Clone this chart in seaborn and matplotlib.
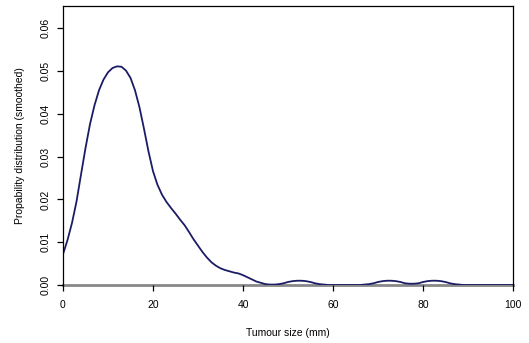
import matplotlib
matplotlib.use("Agg")
import matplotlib.pyplot as plt
import seaborn as sns
import pandas as pd

# Tumour size (mm) and smoothed probability density
tumour_size = list(range(0, 101))
density = [
    0.0072, 0.0105, 0.0145, 0.0195, 0.0258, 0.0320, 0.0376, 0.0420, 0.0455, 0.0480,
    0.0497, 0.0507, 0.0511, 0.0510, 0.0501, 0.0484, 0.0455, 0.0415, 0.0365, 0.0312,
    0.0266, 0.0234, 0.0211, 0.0194, 0.0180, 0.0167, 0.0153, 0.0140, 0.0124, 0.0107,
    0.0092, 0.0077, 0.0064, 0.0053, 0.0045, 0.0039, 0.0035, 0.0032, 0.0029, 0.0027,
    0.0023, 0.0018, 0.0013, 0.0008, 0.0005, 0.0002, 0.0001, 0.0001, 0.0002, 0.0004,
    0.0007, 0.0009, 0.0010, 0.0010, 0.0009, 0.0007, 0.0004, 0.0002, 0.0001, 0.0000,
    0.0000, 0.0000, 0.0000, 0.0000, 0.0000, 0.0000, 0.0000, 0.0001, 0.0002, 0.0004,
    0.0007, 0.0009, 0.0010, 0.0010, 0.0009, 0.0007, 0.0004, 0.0003, 0.0003, 0.0004,
    0.0007, 0.0009, 0.0010, 0.0010, 0.0009, 0.0007, 0.0004, 0.0002, 0.0001, 0.0000,
    0.0000, 0.0000, 0.0000, 0.0000, 0.0000, 0.0000, 0.0000, 0.0000, 0.0000, 0.0000,
    0.0000,
]
x_ticks = [0, 20, 40, 60, 80, 100]
y_ticks = [0.00, 0.01, 0.02, 0.03, 0.04, 0.05, 0.06]
y_tick_labels = ["0.00", "0.01", "0.02", "0.03", "0.04", "0.05", "0.06"]

sns.set_style("ticks")
plt.rcParams["font.family"] = ["Liberation Sans", "DejaVu Sans"]

df = pd.DataFrame({"size": tumour_size, "density": density})

fig = plt.figure(figsize=(5.29, 3.43), dpi=100)
ax = fig.add_axes([63 / 529, 1 - 285 / 343, 450 / 529, 279 / 343])

sns.lineplot(data=df, x="size", y="density", ax=ax, color="#1c1c66", linewidth=1.3)

ax.set_xlim(0, 100)
ax.set_ylim(0, 0.0652)
ax.set_xticks(x_ticks)
ax.set_xticklabels([str(v) for v in x_ticks], fontsize=7.5, color="black")
ax.set_yticks(y_ticks)
ax.set_yticklabels(y_tick_labels, fontsize=7.5, rotation=90, va="center", color="black")
ax.tick_params(axis="x", direction="out", length=4, width=0.9, color="black", pad=7)
ax.tick_params(axis="y", direction="out", length=4, width=0.9, color="black", pad=5)

for s in ["left", "top", "right"]:
    ax.spines[s].set_visible(True)
    ax.spines[s].set_color("black")
    ax.spines[s].set_linewidth(0.9)
ax.spines["bottom"].set_color("#888888")
ax.spines["bottom"].set_linewidth(2)
ax.spines["bottom"].set_zorder(0)

ax.set_xlabel("Tumour size (mm)", fontsize=7.5, labelpad=13, color="black")
ax.set_ylabel("Propability distribution (smoothed)", fontsize=7.5, labelpad=11, color="black")

fig.savefig("out.png", dpi=100)
